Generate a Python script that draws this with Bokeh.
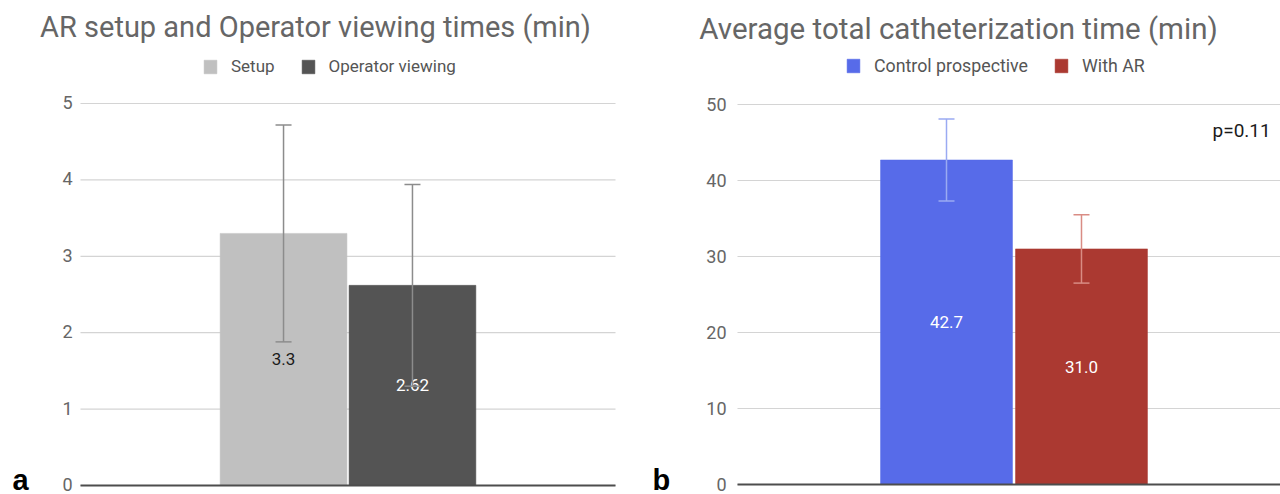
from bokeh.plotting import figure
from bokeh.models import (Range1d, Label, Legend, LegendItem, Whisker,
                          ColumnDataSource, TeeHead)
from bokeh.layouts import row
from bokeh.embed import file_html
from bokeh.resources import INLINE
from bokeh.core.properties import value

# ---------------- data ----------------
a_title = "AR setup and Operator viewing times (min)"
a_series = ["Setup", "Operator viewing"]
a_values = [3.3, 2.62]
a_err_low = [1.88, 1.30]
a_err_high = [4.72, 3.94]
a_labels = ["3.3", "2.62"]
a_ticks = [0, 1, 2, 3, 4, 5]

b_title = "Average total catheterization time (min)"
b_series = ["Control prospective", "With AR"]
b_values = [42.7, 31.0]
b_err_low = [37.3, 26.5]
b_err_high = [48.1, 35.5]
b_labels = ["42.7", "31.0"]
b_ticks = [0, 10, 20, 30, 40, 50]
b_note = "p=0.11"

# ---------------- styles ----------------
a_colors = ["#c0c0c0", "#545454"]
a_label_colors = ["#1a1a1a", "#ffffff"]
a_err_colors = ["#8c8c8c", "#8c8c8c"]
b_colors = ["#576be9", "#ab3931"]
b_label_colors = ["#ffffff", "#ffffff"]
b_err_colors = ["#9aaaf2", "#d98c84"]

FONT = "Roboto"
H = 494


def make_panel(title, series, vals, lo, hi, labels, ticks, colors, lcolors, ecolors,
               x_range, y_range, group_center, offset, bar_w,
               title_x, title_y, title_size, legend_x, legend_size, letter, standoff,
               tick_dy):
    p = figure(width=640, height=H, output_backend="svg", toolbar_location=None,
               x_range=x_range, y_range=y_range,
               x_axis_location=None, y_axis_location=None,
               min_border_left=0, min_border_right=0, min_border_top=0,
               min_border_bottom=0)
    p.outline_line_color = None
    p.grid.visible = False

    # value gridlines and tick labels (from the tick list)
    grid_src = ColumnDataSource(dict(y=ticks, lab=[str(t) for t in ticks],
                                     x0=[0] * len(ticks), x1=[1] * len(ticks)))
    p.segment(x0="x0", x1="x1", y0="y", y1="y", source=grid_src,
              line_color="#d4d4d4", line_width=1.2)
    p.text(x="x0", y="y", text="lab", source=grid_src, x_offset=-standoff,
           y_offset=tick_dy, text_align="right", text_baseline="middle",
           text_font=value(FONT), text_font_size="18px", text_color="#666666")

    items = []
    n = len(series)
    for i in range(n):
        xc = group_center + (i - (n - 1) / 2) * 2 * offset
        src = ColumnDataSource(dict(x=[xc], top=[vals[i]], mid=[vals[i] / 2],
                                    lo=[lo[i]], hi=[hi[i]], lab=[labels[i]]))
        r = p.vbar(x="x", top="top", bottom=0, width=bar_w, source=src,
                   fill_color=colors[i], line_color=colors[i], line_width=0.5)
        items.append(LegendItem(label=series[i], renderers=[r]))
        w = Whisker(source=src, base="x", lower="lo", upper="hi", level="overlay",
                    line_color=ecolors[i], line_width=1.5,
                    upper_head=TeeHead(size=16, line_color=ecolors[i], line_width=1.5),
                    lower_head=TeeHead(size=16, line_color=ecolors[i], line_width=1.5))
        p.add_layout(w)
        t = p.text(x="x", y="mid", text="lab", source=src, text_align="center",
                   text_baseline="middle", text_font=value(FONT), text_font_size="17px",
                   text_color=lcolors[i])
        t.level = "overlay"

    # baseline (zero) axis line
    p.segment(x0=[0], x1=[1], y0=[0], y1=[0], line_color="#4d4d4d", line_width=2)

    legend = Legend(items=items, orientation="horizontal", location=(legend_x, 418),
                    padding=0, margin=0, spacing=25, glyph_width=16, glyph_height=17,
                    label_standoff=13, label_height=17, label_text_font=FONT,
                    label_text_font_size=legend_size, label_text_color="#555555",
                    border_line_color=None, background_fill_alpha=0)
    p.add_layout(legend, "center")

    p.add_layout(Label(x=title_x, y=title_y, x_units="screen", y_units="screen", text=title,
                       text_align="center", text_baseline="middle",
                       text_font=FONT, text_font_size=title_size, text_color="#666666"))
    p.add_layout(Label(x=12, y=15, x_units="screen", y_units="screen", text=letter,
                       text_align="left", text_baseline="middle",
                       text_font="Liberation Sans", text_font_style="bold",
                       text_font_size="29px", text_color="#000000"))
    return p


# left panel: plot area spans page x 80..615, value 0 at y=485, 5 at y=103
pa = make_panel(a_title, a_series, a_values, a_err_low, a_err_high, a_labels, a_ticks,
                a_colors, a_label_colors, a_err_colors,
                x_range=Range1d(-80 / 535, 1 + 25 / 535),
                y_range=Range1d(-9 / 76.4, 5 + 103 / 76.4),
                group_center=0.5, offset=0.1205, bar_w=0.237,
                title_x=315, title_y=468, title_size="29px", legend_x=202,
                legend_size="17px", letter="a", standoff=8, tick_dy=-1)

# right panel: plot area spans page x 737..1280, value 0 at y=484, 50 at y=104
pb = make_panel(b_title, b_series, b_values, b_err_low, b_err_high, b_labels, b_ticks,
                b_colors, b_label_colors, b_err_colors,
                x_range=Range1d(-97 / 543, 1),
                y_range=Range1d(-10 / 7.6, 50 + 104 / 7.6),
                group_center=0.5092, offset=0.1243, bar_w=0.243,
                title_x=318, title_y=466, title_size="29.5px", legend_x=205,
                legend_size="17.8px", letter="b", standoff=11, tick_dy=0)

pb.add_layout(Label(x=0.982, y=46.6, text=b_note, text_align="right",
                    text_baseline="middle", text_font=FONT, text_font_size="19px",
                    text_color="#1a1a1a"))

layout = row(pa, pb, spacing=0)
open("out.html", "w").write(file_html(layout, INLINE))
